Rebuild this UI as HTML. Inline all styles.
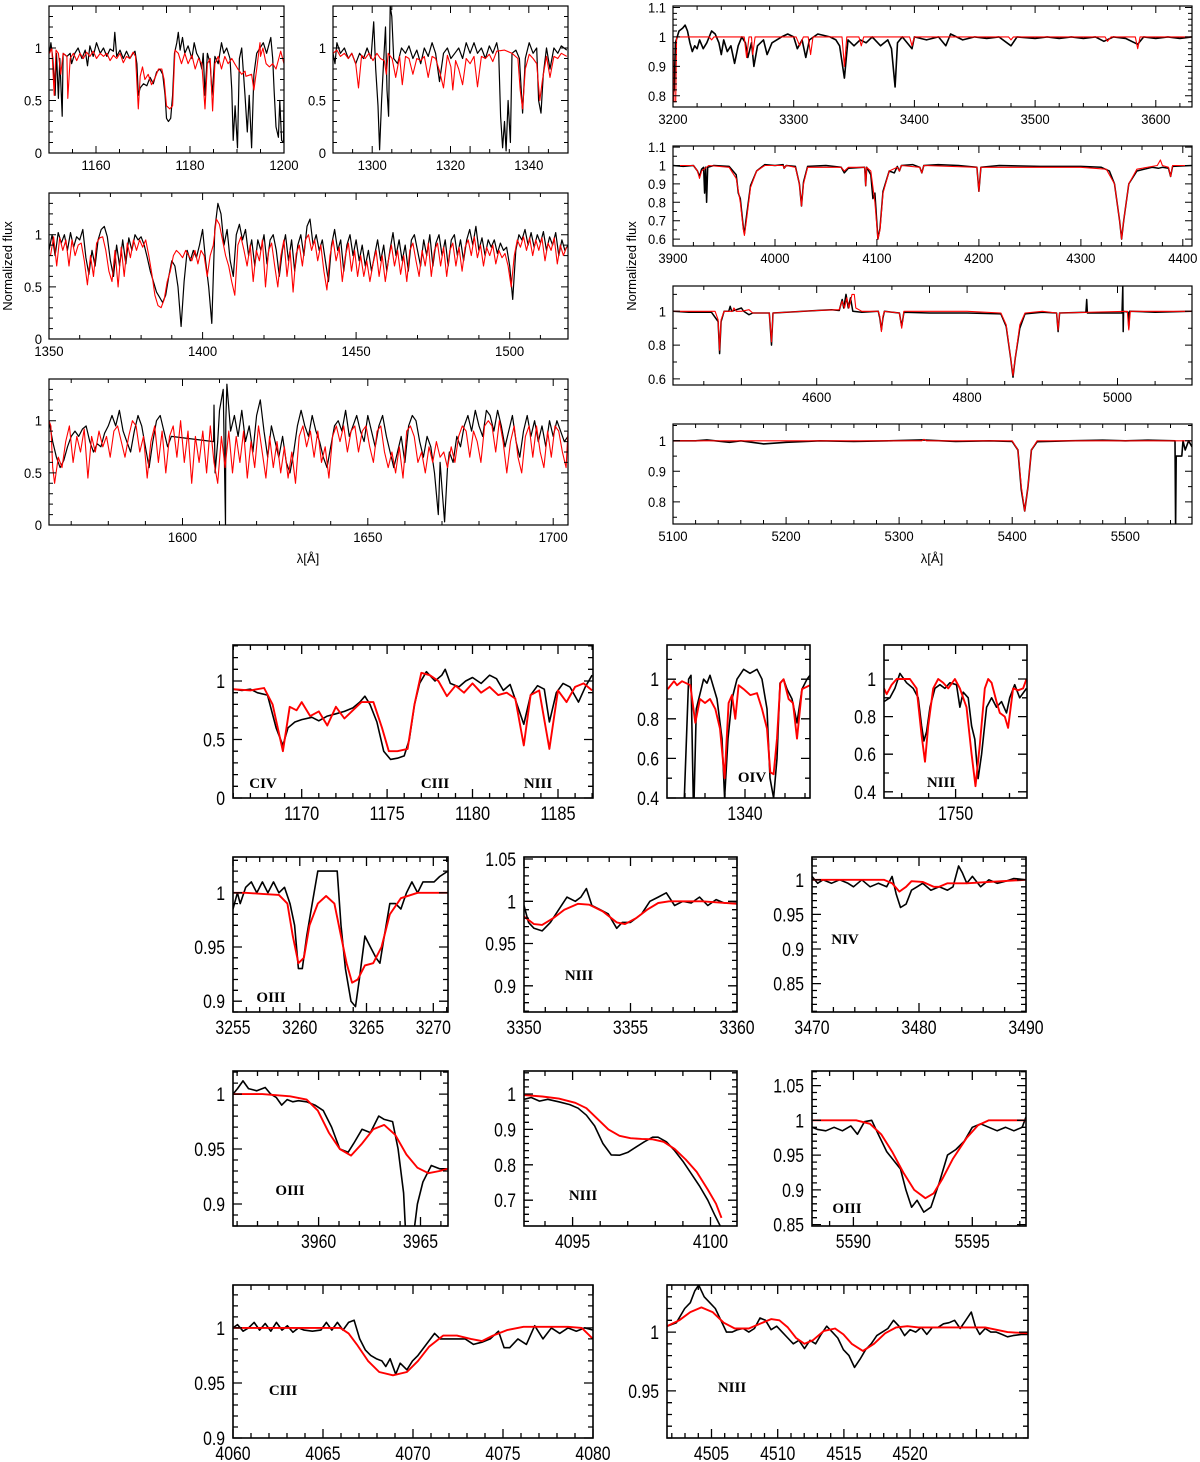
<!DOCTYPE html>
<html><head><meta charset="utf-8"><style>
html,body{margin:0;padding:0;background:#fff;}
svg{display:block;}
</style></head><body>
<svg id="fig" xmlns="http://www.w3.org/2000/svg" width="1200" height="1462" viewBox="0 0 1200 1462">
<rect x="0" y="0" width="1200" height="1462" fill="#fff"/>
<text x="0" y="0" transform="translate(12,266) rotate(-90)" text-anchor="middle" font-family="Liberation Sans, sans-serif" font-size="13">Normalized flux</text>
<text x="0" y="0" transform="translate(636,266) rotate(-90)" text-anchor="middle" font-family="Liberation Sans, sans-serif" font-size="13">Normalized flux</text>
<text x="308" y="563" text-anchor="middle" font-family="Liberation Sans, sans-serif" font-size="13">λ[Å]</text>
<text x="932" y="563" text-anchor="middle" font-family="Liberation Sans, sans-serif" font-size="13">λ[Å]</text>
</svg>
<script>
// ---------- DATA (wavelength [Å], normalized flux) ----------
const p1Obs=[[1150.1,0.95],[1150.4,1.05],[1150.8,0.9],[1151.3,0.55],[1151.6,0.95],[1152.0,0.52],[1152.3,0.9],[1152.8,0.35],[1153.0,0.95],[1153.8,0.92],[1154.5,0.95],[1154.8,0.85],[1155.5,0.95],[1156.2,1.0],[1157.0,0.9],[1157.7,0.98],[1158.2,0.83],[1158.7,1.02],[1159.4,0.92],[1160.1,1.05],[1160.9,0.95],[1161.6,1.0],[1162.3,0.92],[1163.0,0.99],[1163.7,0.97],[1164.0,1.15],[1164.4,0.92],[1165.1,0.98],[1165.8,0.9],[1166.5,0.97],[1167.2,0.9],[1167.9,0.95],[1168.3,0.97],[1168.7,0.85],[1169.0,0.55],[1169.4,0.62],[1170.1,0.66],[1170.8,0.64],[1171.5,0.72],[1172.2,0.66],[1172.9,0.77],[1173.6,0.8],[1174.2,0.75],[1174.7,0.55],[1175.0,0.33],[1175.4,0.3],[1175.9,0.33],[1176.3,0.55],[1176.7,0.95],[1177.2,1.05],[1177.5,1.15],[1177.9,0.98],[1178.4,1.1],[1178.9,0.95],[1179.6,1.02],[1180.4,0.9],[1180.9,1.05],[1181.4,0.95],[1182.0,0.9],[1182.5,0.8],[1182.8,0.95],[1183.2,0.55],[1183.7,0.95],[1184.3,0.85],[1184.7,0.55],[1185.3,0.92],[1186.0,0.85],[1186.7,1.05],[1187.2,0.95],[1187.8,1.0],[1188.5,0.9],[1188.9,0.6],[1189.2,0.12],[1189.6,0.45],[1190.1,0.05],[1190.5,0.9],[1191.0,1.0],[1191.7,0.55],[1192.2,0.2],[1192.6,0.55],[1193.1,0.05],[1193.6,0.75],[1194.2,0.95],[1194.9,1.0],[1195.6,1.05],[1196.3,0.95],[1197.2,1.1],[1197.6,0.9],[1197.9,0.6],[1198.3,0.25],[1198.8,0.15],[1199.1,0.5],[1199.5,0.12],[1199.9,0.1],[1200,0.5]];
const p1Mod=[[1150.1,0.95],[1150.6,1.0],[1151.1,0.55],[1151.5,0.98],[1152.0,0.95],[1152.5,0.75],[1153.0,0.95],[1153.8,0.92],[1154.0,0.52],[1154.5,0.9],[1155.2,0.95],[1155.9,0.88],[1156.6,0.95],[1157.3,0.9],[1158.0,0.96],[1158.7,0.92],[1159.4,0.97],[1160.1,0.9],[1160.9,0.95],[1161.6,0.92],[1162.3,0.95],[1163.0,0.88],[1163.7,0.93],[1164.4,0.9],[1165.1,0.95],[1165.8,0.86],[1166.5,0.92],[1167.2,0.9],[1167.9,0.96],[1168.4,0.92],[1169.0,0.42],[1169.4,0.73],[1169.9,0.82],[1170.4,0.7],[1171.1,0.75],[1171.8,0.65],[1172.6,0.72],[1173.3,0.8],[1174.0,0.8],[1174.5,0.7],[1175.0,0.45],[1175.7,0.42],[1176.3,0.45],[1176.8,0.98],[1177.5,0.95],[1178.2,0.85],[1178.9,0.95],[1179.6,0.85],[1180.4,0.93],[1181.1,0.8],[1181.8,0.9],[1182.5,0.85],[1183.2,0.42],[1183.7,0.85],[1184.3,0.9],[1184.8,0.4],[1185.3,0.85],[1186.0,0.92],[1186.7,0.8],[1187.4,0.92],[1188.1,0.85],[1188.9,0.9],[1189.5,0.85],[1190.2,0.8],[1191.0,0.75],[1191.7,0.78],[1191.9,0.73],[1193.1,0.75],[1193.6,0.6],[1194.2,0.8],[1194.9,1.05],[1195.0,0.92],[1195.5,1.0],[1196.2,0.85],[1196.9,0.82],[1197.6,0.85],[1198.3,0.8],[1198.9,0.9],[1199.3,0.97],[1200,0.85]];
const p2Obs=[[1290.0,0.95],[1290.5,0.85],[1291.0,1.05],[1291.9,0.95],[1292.9,1.0],[1293.9,0.9],[1294.8,0.95],[1295.8,0.85],[1296.8,0.95],[1297.8,0.9],[1298.7,1.0],[1299.7,0.9],[1300.4,1.25],[1300.9,0.8],[1301.5,0.45],[1301.9,0.03],[1302.4,0.5],[1302.9,0.85],[1303.4,1.2],[1303.8,0.6],[1304.2,0.35],[1304.6,1.4],[1305.0,1.3],[1305.5,0.9],[1306.5,0.85],[1307.5,1.0],[1308.5,0.95],[1309.4,1.02],[1310.4,0.9],[1311.4,0.98],[1312.4,0.85],[1313.3,1.0],[1314.3,0.92],[1315.3,1.05],[1316.2,0.95],[1317.2,0.68],[1318.2,0.95],[1319.2,1.0],[1320.1,0.9],[1321.1,0.95],[1322.1,1.0],[1323.1,0.9],[1324.0,1.05],[1325.0,0.95],[1326.0,1.05],[1326.9,0.95],[1327.9,1.0],[1328.9,0.9],[1329.9,1.02],[1330.8,0.95],[1331.8,1.05],[1332.3,0.95],[1332.8,0.35],[1333.3,0.05],[1333.8,0.3],[1334.2,0.02],[1334.7,0.5],[1335.3,0.1],[1335.7,0.95],[1336.7,0.98],[1337.6,0.9],[1338.4,0.38],[1339.1,0.9],[1340.1,1.05],[1341.1,0.95],[1342.0,1.0],[1342.5,0.5],[1343.1,0.38],[1343.7,0.75],[1344.5,1.0],[1345.4,0.8],[1346.4,1.0],[1347.4,0.95],[1348.3,1.02],[1349.7,0.98]];
const p2Mod=[[1290.0,0.95],[1291.0,0.98],[1291.9,0.92],[1292.9,0.95],[1293.9,0.9],[1294.8,0.95],[1295.8,0.85],[1296.5,0.62],[1297.3,0.93],[1298.2,0.9],[1299.2,0.95],[1300.2,0.88],[1301.2,0.95],[1302.1,0.9],[1303.1,0.88],[1303.6,0.75],[1304.1,0.95],[1305.1,0.9],[1306.0,0.72],[1307.0,0.92],[1307.7,0.65],[1308.5,0.92],[1309.4,0.9],[1310.4,0.75],[1311.4,0.9],[1312.4,0.88],[1313.3,0.92],[1314.3,0.72],[1315.3,0.92],[1316.2,0.9],[1317.2,0.78],[1318.2,0.62],[1319.2,0.93],[1320.1,0.82],[1320.6,0.6],[1321.3,0.88],[1322.1,0.8],[1323.1,0.65],[1324.0,0.9],[1325.0,0.85],[1326.0,0.92],[1326.9,0.63],[1327.9,0.92],[1328.9,0.9],[1329.9,0.94],[1330.8,0.87],[1331.8,0.97],[1333.8,0.98],[1335.7,0.95],[1337.2,0.9],[1337.8,0.6],[1338.4,0.42],[1339.1,0.8],[1340.1,0.94],[1341.1,0.9],[1342.0,0.85],[1342.8,0.5],[1343.5,0.7],[1344.5,0.92],[1345.4,0.72],[1346.4,0.92],[1347.4,0.9],[1348.3,0.95],[1349.7,0.92]];
const p3Obs=[[1350,0.85],[1351,1.0],[1352,0.8],[1353,1.02],[1354,0.92],[1355,1.0],[1356,0.85],[1357,1.02],[1358,0.88],[1359,0.98],[1360,0.95],[1361,1.05],[1362,0.78],[1363,0.62],[1364,0.85],[1365,0.7],[1366,0.95],[1367,1.05],[1368,1.08],[1369,0.98],[1370,0.75],[1371,0.6],[1372,0.9],[1373,0.7],[1374,0.95],[1375,0.72],[1376,0.97],[1377,0.85],[1378,1.0],[1379,0.95],[1380,0.98],[1381,0.9],[1382,0.78],[1383,0.65],[1384,0.55],[1385,0.45],[1386,0.4],[1387,0.35],[1388,0.42],[1389,0.6],[1390,0.75],[1391,0.7],[1392,0.5],[1393,0.12],[1394,0.55],[1395,0.85],[1396,0.75],[1397,0.85],[1398,0.78],[1399,0.9],[1400,1.05],[1401,0.75],[1402,0.5],[1403,0.15],[1404,1.05],[1405,1.3],[1406,1.2],[1407,0.9],[1408,1.05],[1409,0.75],[1410,0.6],[1411,1.0],[1412,1.1],[1413,0.95],[1414,1.05],[1415,0.8],[1416,0.95],[1417,0.7],[1418,0.95],[1419,0.85],[1420,1.0],[1421,0.72],[1422,0.95],[1423,1.0],[1424,0.85],[1425,0.6],[1426,0.85],[1427,1.0],[1428,0.75],[1429,0.95],[1430,0.65],[1431,0.9],[1432,1.0],[1433,0.8],[1434,1.08],[1435,1.15],[1436,0.9],[1437,1.0],[1438,0.85],[1439,0.95],[1440,0.75],[1441,0.55],[1442,0.9],[1443,1.05],[1444,0.85],[1445,0.95],[1446,0.65],[1447,0.9],[1448,1.0],[1449,0.8],[1450,0.95],[1451,0.75],[1452,0.9],[1453,0.7],[1454,0.85],[1455,0.65],[1456,0.8],[1457,0.95],[1458,0.75],[1459,0.9],[1460,0.65],[1461,0.85],[1462,1.02],[1463,0.8],[1464,0.95],[1465,0.75],[1466,0.9],[1467,0.65],[1468,0.95],[1469,1.0],[1470,0.85],[1471,0.7],[1472,0.95],[1473,0.8],[1474,1.0],[1475,0.7],[1476,0.92],[1477,1.0],[1478,0.8],[1479,0.95],[1480,0.7],[1481,0.95],[1482,1.0],[1483,0.8],[1484,0.95],[1485,0.75],[1486,0.95],[1487,1.05],[1488,0.9],[1489,1.08],[1490,0.85],[1491,0.97],[1492,0.8],[1493,0.95],[1494,0.88],[1495,0.95],[1496,0.82],[1497,0.92],[1498,0.85],[1499,0.88],[1500,0.7],[1501,0.38],[1502,0.85],[1503,1.0],[1504,0.95],[1505,1.05],[1506,0.9],[1507,1.02],[1508,0.88],[1509,1.0],[1510,0.92],[1511,1.03],[1512,0.85],[1513,0.98],[1514,0.9],[1515,1.02],[1516,0.8],[1517,0.95],[1518,0.85],[1519,0.9]];
const p3Mod=[[1350.5,0.8],[1351.5,0.98],[1352.5,0.7],[1353.5,0.97],[1354.5,0.85],[1355.5,0.95],[1356.5,0.7],[1357.5,0.95],[1358.5,0.8],[1359.5,0.9],[1360.5,0.92],[1361.5,0.75],[1362.5,0.52],[1363.5,0.8],[1364.5,0.6],[1365.5,0.92],[1366.5,0.97],[1367.5,0.98],[1368.5,0.85],[1369.5,0.65],[1370.5,0.55],[1371.5,0.85],[1372.5,0.5],[1373.5,0.88],[1374.5,0.6],[1375.5,0.92],[1376.5,0.78],[1377.5,0.95],[1378.5,0.85],[1379.5,0.95],[1380.5,0.88],[1381.5,0.95],[1382.5,0.8],[1383.5,0.62],[1384.5,0.42],[1385.5,0.32],[1386.5,0.3],[1387.5,0.38],[1388.5,0.55],[1389.5,0.65],[1390.5,0.8],[1391.5,0.85],[1392.5,0.82],[1393.5,0.78],[1394.5,0.85],[1395.5,0.8],[1396.5,0.75],[1397.5,0.85],[1398.5,0.72],[1399.5,0.85],[1400.5,0.8],[1401.5,0.6],[1402.5,0.8],[1403.5,0.9],[1404.5,1.15],[1405.5,1.1],[1406.5,0.95],[1407.5,0.8],[1408.5,0.7],[1409.5,0.55],[1410.5,0.42],[1411.5,0.9],[1412.5,0.98],[1413.5,0.85],[1414.5,0.7],[1415.5,0.9],[1416.5,0.55],[1417.5,0.85],[1418.5,0.75],[1419.5,0.95],[1420.5,0.5],[1421.5,0.85],[1422.5,0.92],[1423.5,0.7],[1424.5,0.5],[1425.5,0.8],[1426.5,0.95],[1427.5,0.6],[1428.5,0.85],[1429.5,0.45],[1430.5,0.82],[1431.5,0.9],[1432.5,0.7],[1433.5,0.95],[1434.5,1.0],[1435.5,0.85],[1436.5,0.95],[1437.5,0.75],[1438.5,0.9],[1439.5,0.65],[1440.5,0.47],[1441.5,0.8],[1442.5,0.95],[1443.5,0.75],[1444.5,0.88],[1445.5,0.55],[1446.5,0.8],[1447.5,0.92],[1448.5,0.65],[1449.5,0.85],[1450.5,0.6],[1451.5,0.8],[1452.5,0.6],[1453.5,0.75],[1454.5,0.55],[1455.5,0.72],[1456.5,0.85],[1457.5,0.6],[1458.5,0.8],[1459.5,0.55],[1460.5,0.75],[1461.5,0.9],[1462.5,0.7],[1463.5,0.85],[1464.5,0.62],[1465.5,0.8],[1466.5,0.55],[1467.5,0.85],[1468.5,0.92],[1469.5,0.75],[1470.5,0.6],[1471.5,0.85],[1472.5,0.7],[1473.5,0.92],[1474.5,0.6],[1475.5,0.85],[1476.5,0.92],[1477.5,0.7],[1478.5,0.88],[1479.5,0.6],[1480.5,0.85],[1481.5,0.92],[1482.5,0.7],[1483.5,0.88],[1484.5,0.65],[1485.5,0.88],[1486.5,0.95],[1487.5,0.8],[1488.5,0.98],[1489.5,0.78],[1490.5,0.9],[1491.5,0.7],[1492.5,0.88],[1493.5,0.8],[1494.5,0.9],[1495.5,0.72],[1496.5,0.85],[1497.5,0.78],[1498.5,0.82],[1499.5,0.7],[1500.5,0.5],[1501.5,0.8],[1502.5,0.95],[1503.5,0.88],[1504.5,0.98],[1505.5,0.85],[1506.5,0.97],[1507.5,0.8],[1508.5,0.95],[1509.5,0.85],[1510.5,0.97],[1511.5,0.75],[1512.5,0.92],[1513.5,0.85],[1514.5,0.97],[1515.5,0.72],[1516.5,0.9],[1517.5,0.8],[1518.5,0.88]];
const p4Obs=[[1564,1.0],[1565,0.8],[1566,0.65],[1567,0.55],[1568,0.62],[1569,0.75],[1570,0.85],[1571,0.9],[1572,0.85],[1573,0.92],[1574,0.95],[1575,0.8],[1576,0.7],[1577,0.78],[1578,0.75],[1579,0.88],[1580,0.95],[1581,1.05],[1582,0.95],[1583,1.1],[1584,0.9],[1585,0.8],[1586,0.7],[1587,0.9],[1588,1.05],[1589,0.95],[1590,0.75],[1591,0.55],[1592,0.8],[1593,1.0],[1594,1.05],[1595,0.9],[1596,0.75],[1597,0.85],[1608.4,0.8],[1608.5,1.15],[1608.8,0.5],[1609.5,0.8],[1610,1.1],[1611,1.3],[1611.6,0.0],[1611.7,1.0],[1612,1.35],[1613,0.9],[1614,1.05],[1615,0.85],[1616,1.1],[1617,0.8],[1618,0.95],[1619,0.7],[1620,1.05],[1621,1.2],[1622,0.9],[1623,0.65],[1624,0.95],[1625,0.8],[1626,0.65],[1627,0.85],[1628,0.6],[1629,0.5],[1630,0.7],[1631,0.95],[1632,1.1],[1633,0.95],[1634,0.85],[1635,1.05],[1636,0.9],[1637,0.8],[1638,0.65],[1639,0.55],[1640,0.75],[1641,0.95],[1642,1.0],[1643,0.9],[1644,1.1],[1645,0.85],[1646,0.95],[1647,1.05],[1648,0.9],[1649,0.8],[1650,1.05],[1651,0.9],[1652,0.75],[1653,0.95],[1654,1.05],[1655,0.85],[1656,0.7],[1657,0.55],[1658,0.7],[1659,0.85],[1660,0.6],[1661,0.95],[1662,1.05],[1663,1.0],[1664,0.8],[1665,0.65],[1666,0.85],[1667,0.75],[1668,0.5],[1669,0.1],[1669.5,0.6],[1670,0.35],[1670.7,0.03],[1671.5,0.55],[1672,0.7],[1673,0.6],[1674,0.85],[1675,0.75],[1676,0.95],[1677,1.05],[1678,0.9],[1679,1.1],[1680,0.95],[1681,0.85],[1682,1.1],[1683,1.05],[1684,0.9],[1685,1.1],[1686,0.95],[1687,0.75],[1688,0.9],[1689,1.05],[1690,0.8],[1691,0.65],[1692,0.9],[1693,1.05],[1694,0.85],[1695,1.0],[1696,0.8],[1697,0.95],[1698,0.75],[1699,1.0],[1700,0.85],[1701,1.0],[1702,0.9],[1703,0.8],[1704,0.85]];
const p4Mod=[[1564,1.0],[1564.5,0.95],[1565,0.55],[1565.5,0.4],[1566.5,0.65],[1567.5,0.55],[1568.5,0.8],[1569.5,0.95],[1570.5,0.6],[1571.5,0.85],[1572.5,0.7],[1573.5,0.92],[1574.5,0.45],[1575.5,0.85],[1576.5,0.7],[1577.5,0.9],[1578.5,0.75],[1579.5,0.85],[1580.5,0.65],[1581.5,0.9],[1582.5,0.95],[1583.5,0.8],[1584.5,0.65],[1585.5,0.85],[1586.5,1.0],[1587.5,0.95],[1588.5,0.7],[1589.5,0.85],[1590.5,0.45],[1591.5,0.8],[1592.5,0.95],[1593.5,0.6],[1594.5,0.9],[1595.5,0.5],[1596.5,0.85],[1597.5,0.95],[1598.5,0.65],[1599.5,1.0],[1600.5,0.6],[1601.5,0.9],[1602.5,0.4],[1603.5,0.85],[1604.5,0.6],[1605.5,0.9],[1606.5,0.5],[1607.5,0.95],[1608.5,0.6],[1609.5,0.4],[1610.5,0.85],[1611.5,0.55],[1612.5,0.9],[1613.5,0.5],[1614.5,0.85],[1615.5,0.6],[1616.5,0.9],[1617.5,0.45],[1618.5,0.8],[1619.5,0.55],[1620.5,0.95],[1621.5,0.7],[1622.5,0.45],[1623.5,0.85],[1624.5,0.55],[1625.5,0.8],[1626.5,0.5],[1627.5,0.75],[1628.5,0.45],[1629.5,0.7],[1630.5,0.4],[1631.5,0.85],[1632.5,0.95],[1633.5,0.75],[1634.5,0.9],[1635.5,0.65],[1636.5,0.9],[1637.5,0.6],[1638.5,0.75],[1639.5,0.45],[1640.5,0.85],[1641.5,0.95],[1642.5,0.8],[1643.5,0.95],[1644.5,0.7],[1645.5,0.9],[1646.5,0.95],[1647.5,0.7],[1648.5,0.9],[1649.5,0.95],[1650.5,0.75],[1651.5,0.6],[1652.5,0.9],[1653.5,0.95],[1654.5,0.7],[1655.5,0.55],[1656.5,0.7],[1657.5,0.5],[1658.5,0.75],[1659.5,0.45],[1660.5,0.9],[1661.5,0.95],[1662.5,0.85],[1663.5,0.6],[1664.5,0.7],[1665.5,0.5],[1666.5,0.75],[1667.5,0.6],[1668.5,0.8],[1669.5,0.65],[1670.5,0.7],[1671.5,0.55],[1672.5,0.75],[1673.5,0.6],[1674.5,0.85],[1675.5,0.95],[1676.5,0.9],[1677.5,0.65],[1678.5,0.9],[1679.5,0.8],[1680.5,0.6],[1681.5,0.95],[1682.5,1.0],[1683.5,0.95],[1684.5,0.7],[1685.5,1.0],[1686.5,0.8],[1687.5,0.5],[1688.5,0.8],[1689.5,0.95],[1690.5,0.65],[1691.5,0.5],[1692.5,0.85],[1693.5,0.95],[1694.5,0.65],[1695.5,0.95],[1696.5,0.7],[1697.5,0.55],[1698.5,0.9],[1699.5,0.65],[1700.5,0.95],[1701.5,0.9],[1702.5,0.7],[1703.5,0.55],[1704,0.9]];
const r1Obs=[[3200,0.8],[3201,0.82],[3202,0.98],[3205,1.02],[3208,1.03],[3210,1.04],[3212,1.02],[3214,0.98],[3216,0.95],[3218,0.97],[3220,0.96],[3222,0.99],[3225,0.96],[3228,0.98],[3232,1.02],[3235,1.01],[3238,0.98],[3240,0.94],[3242,0.99],[3245,0.95],[3248,0.97],[3251,0.91],[3254,0.97],[3257,1.0],[3260,0.98],[3262,0.93],[3265,0.98],[3267,0.9],[3270,0.97],[3275,0.99],[3278,0.94],[3282,0.98],[3290,1.0],[3295,1.01],[3300,1.0],[3303,0.96],[3307,0.99],[3310,0.93],[3313,0.99],[3320,1.01],[3330,1.0],[3335,0.99],[3338,0.97],[3342,0.86],[3345,0.99],[3350,0.97],[3355,0.99],[3360,0.98],[3365,1.0],[3372,0.97],[3378,0.99],[3381,0.96],[3384,0.83],[3386,0.98],[3390,1.0],[3398,0.96],[3400,1.0],[3410,0.99],[3420,1.0],[3426,0.97],[3430,1.01],[3440,0.99],[3450,1.0],[3460,0.995],[3470,1.0],[3480,0.97],[3485,1.0],[3500,0.995],[3510,1.0],[3520,0.995],[3530,1.0],[3540,0.995],[3550,1.0],[3557,0.985],[3565,1.0],[3575,0.995],[3585,0.975],[3590,1.0],[3600,0.995],[3610,1.0],[3620,0.995],[3630,1.0]];
const r1Mod=[[3200,1.0],[3200.8,0.78],[3202.2,0.78],[3203,1.0],[3230,1.0],[3232,0.99],[3234,1.0],[3259,1.0],[3261,0.93],[3263,1.0],[3265,1.0],[3266,0.94],[3268,1.0],[3302,1.0],[3305,0.97],[3308,1.0],[3312,1.0],[3314,0.94],[3316,1.0],[3340,1.0],[3342,0.9],[3344,1.0],[3354,1.0],[3356,0.97],[3358,1.0],[3396,1.0],[3398,0.97],[3400,1.0],[3478,1.0],[3480,0.99],[3482,1.0],[3558,1.0],[3560,0.985],[3563,1.0],[3583,1.0],[3585,0.96],[3587,1.0],[3630,1.0]];
const r2Obs=[[3900,1.0],[3910,0.995],[3920,1.0],[3924,0.97],[3926,0.94],[3928,0.98],[3930,0.99],[3931,0.85],[3932,0.99],[3933,0.8],[3934,0.99],[3940,1.0],[3955,0.995],[3962,0.95],[3964,0.85],[3966,0.82],[3969,0.66],[3970,0.63],[3972,0.72],[3976,0.89],[3982,0.97],[3990,1.005],[4000,1.0],[4008,1.005],[4009,0.985],[4011,1.0],[4020,0.995],[4024,0.9],[4026,0.78],[4028,0.91],[4032,0.995],[4050,1.0],[4065,0.99],[4068,0.96],[4072,0.985],[4088,0.99],[4089,0.89],[4090,0.99],[4094,0.95],[4096,0.82],[4098,0.85],[4101,0.6],[4103,0.66],[4106,0.86],[4112,0.97],[4117,0.96],[4120,0.995],[4122,0.97],[4124,1.0],[4135,1.005],[4142,0.99],[4144,0.96],[4146,1.0],[4160,1.005],[4180,1.0],[4198,0.99],[4200,0.86],[4202,0.99],[4220,1.0],[4260,0.995],[4300,0.995],[4320,0.99],[4328,0.97],[4333,0.9],[4338,0.7],[4340,0.6],[4342,0.7],[4347,0.9],[4355,0.97],[4370,0.99],[4376,0.985],[4380,0.99],[4386,0.985],[4388,0.94],[4390,0.995],[4409,1.0]];
const r2Mod=[[3900,1.0],[3920,1.0],[3924,0.97],[3926,0.93],[3928,0.97],[3935,1.0],[3955,0.99],[3962,0.93],[3966,0.8],[3969,0.65],[3970,0.62],[3972,0.7],[3976,0.88],[3982,0.97],[3990,1.0],[4008,1.0],[4009,0.985],[4011,1.0],[4020,0.99],[4024,0.9],[4026,0.78],[4028,0.9],[4032,0.99],[4065,0.99],[4068,0.97],[4072,0.99],[4088,0.99],[4089,0.89],[4090,0.99],[4094,0.97],[4098,0.8],[4101,0.6],[4103,0.65],[4106,0.85],[4112,0.97],[4120,0.99],[4122,0.97],[4124,1.0],[4142,0.99],[4144,0.96],[4146,1.0],[4198,0.99],[4200,0.86],[4202,0.99],[4300,0.99],[4325,0.98],[4333,0.9],[4338,0.7],[4340,0.6],[4342,0.7],[4347,0.9],[4355,0.98],[4375,1.0],[4378,1.03],[4380,1.0],[4386,0.99],[4388,0.94],[4390,1.0],[4409,1.0]];
const r3Obs=[[4409,1.0],[4430,0.995],[4460,0.995],[4469,0.94],[4471,0.75],[4473,0.94],[4477,1.0],[4483,1.0],[4485,1.03],[4487,1.0],[4500,1.02],[4503,1.0],[4510,0.98],[4515,0.99],[4537,0.99],[4540,0.8],[4542,0.99],[4560,0.995],[4600,1.005],[4620,1.01],[4630,1.005],[4634,1.07],[4636,1.02],[4639,1.1],[4642,1.02],[4645,1.08],[4648,1.0],[4660,0.995],[4682,1.0],[4684,0.96],[4686,0.89],[4688,0.96],[4690,1.0],[4710,0.99],[4713,0.91],[4716,0.995],[4750,0.99],[4800,0.99],[4845,0.985],[4852,0.91],[4858,0.72],[4861,0.61],[4864,0.72],[4870,0.9],[4877,0.985],[4900,0.995],[4919,0.99],[4921,0.88],[4923,0.99],[4958,0.995],[4959,1.07],[4960,0.99],[5006,0.99],[5007,1.15],[5007.5,0.88],[5008,1.0],[5014,0.995],[5015,0.9],[5016,1.0],[5050,0.995],[5099,1.0]];
const r3Mod=[[4409,1.0],[4465,1.0],[4469,0.95],[4471,0.77],[4473,0.95],[4477,1.0],[4488,1.0],[4490,1.02],[4493,1.0],[4500,1.0],[4510,1.01],[4515,0.99],[4537,0.99],[4540,0.82],[4542,0.99],[4600,1.005],[4630,1.01],[4634,1.06],[4637,1.02],[4640,1.08],[4643,1.02],[4647,1.1],[4650,1.1],[4652,1.02],[4660,1.0],[4682,1.0],[4684,0.97],[4686,0.88],[4688,0.97],[4690,1.0],[4710,0.99],[4713,0.9],[4716,1.0],[4800,1.0],[4845,0.99],[4852,0.92],[4858,0.72],[4861,0.62],[4864,0.72],[4870,0.92],[4877,0.99],[4900,1.0],[4919,0.99],[4921,0.89],[4923,0.99],[5013,1.0],[5015,0.89],[5017,1.0],[5099,1.0]];
const r4Obs=[[5100,1.0],[5120,1.0],[5130,1.003],[5150,0.995],[5160,1.0],[5180,0.99],[5200,0.995],[5230,1.0],[5260,0.998],[5290,1.0],[5320,1.003],[5350,0.998],[5380,1.0],[5400,0.998],[5405,0.97],[5408,0.84],[5411,0.77],[5414,0.85],[5417,0.97],[5422,0.997],[5450,1.0],[5480,1.002],[5500,1.0],[5520,1.002],[5544,1.0],[5544.5,0.72],[5545,0.95],[5550,0.95],[5551,1.0],[5553,0.97],[5556,1.0],[5559,0.98]];
const r4Mod=[[5100,1.0],[5320,1.0],[5322,1.005],[5324,1.0],[5400,1.0],[5405,0.97],[5408,0.85],[5411,0.77],[5414,0.85],[5417,0.97],[5422,1.0],[5559,1.0]];
const b1Obs=[[1166,0.93],[1166.5,0.92],[1167,0.93],[1167.4,0.9],[1168,0.88],[1168.5,0.6],[1168.9,0.45],[1169.2,0.6],[1169.6,0.65],[1170,0.67],[1170.6,0.69],[1171,0.66],[1171.5,0.7],[1172,0.72],[1172.5,0.74],[1173,0.77],[1173.4,0.82],[1173.7,0.87],[1174,0.8],[1174.4,0.65],[1174.8,0.4],[1175.2,0.33],[1175.6,0.34],[1176,0.36],[1176.3,0.5],[1176.6,0.8],[1176.9,0.98],[1177.3,1.08],[1177.8,1.0],[1178.2,1.05],[1178.4,1.1],[1178.7,0.98],[1179.2,0.95],[1179.6,1.0],[1180,1.03],[1180.5,0.98],[1181,1.05],[1181.4,1.02],[1181.8,0.92],[1182.2,0.97],[1182.6,0.8],[1183,0.63],[1183.4,0.88],[1183.8,0.96],[1184.2,0.93],[1184.5,0.65],[1184.9,0.9],[1185.3,0.98],[1185.7,0.95],[1186.2,0.82],[1186.6,0.95],[1187,1.05]];
const b1Mod=[[1166,0.93],[1167,0.92],[1167.8,0.94],[1168.3,0.8],[1168.9,0.4],[1169.3,0.78],[1169.7,0.75],[1170,0.82],[1170.5,0.7],[1171,0.74],[1171.5,0.62],[1172,0.78],[1172.5,0.68],[1173,0.75],[1173.5,0.82],[1174.2,0.82],[1174.7,0.6],[1175.1,0.4],[1175.6,0.4],[1176.2,0.42],[1176.6,0.8],[1177,1.07],[1177.5,1.05],[1178,1.0],[1178.5,0.87],[1179,0.96],[1179.5,0.9],[1180,0.98],[1180.5,0.9],[1181,0.95],[1181.5,0.88],[1182,0.9],[1182.5,0.85],[1183,0.45],[1183.4,0.88],[1183.9,0.92],[1184.5,0.42],[1185,0.92],[1185.5,0.82],[1186,0.95],[1186.5,0.98],[1187,0.92]];
const b2Obs=[[1333.86,0.3],[1334.36,1.0],[1334.6,1.02],[1334.86,0.3],[1335.13,0.85],[1335.86,1.0],[1336.2,0.98],[1336.5,1.02],[1337.2,0.9],[1337.7,0.7],[1337.96,0.4],[1338.3,0.7],[1338.7,0.9],[1339.2,1.0],[1339.86,1.05],[1340.5,1.03],[1341.2,1.05],[1341.7,1.0],[1342.2,0.85],[1342.5,0.5],[1342.86,0.4],[1343.2,0.6],[1343.5,0.98],[1343.86,1.0],[1344.2,0.95],[1344.7,0.9],[1345.2,0.78],[1345.7,0.95],[1346.2,1.0],[1346.5,1.02]];
const b2Mod=[[1332.27,0.95],[1332.9,0.99],[1333.2,0.97],[1333.7,0.99],[1334.53,0.97],[1335.03,0.78],[1335.5,0.9],[1336.0,0.88],[1336.5,0.9],[1337.03,0.85],[1337.5,0.75],[1337.96,0.5],[1338.36,0.88],[1338.7,0.92],[1339.03,0.8],[1339.36,0.97],[1339.86,0.95],[1340.53,0.92],[1341.2,0.93],[1341.7,0.85],[1342.2,0.75],[1342.53,0.53],[1342.86,0.52],[1343.2,0.7],[1343.53,0.98],[1343.86,1.0],[1344.36,0.9],[1344.8,0.88],[1345.2,0.7],[1345.7,0.95],[1346.5,0.97]];
const b3Obs=[[1744.69,0.88],[1745.13,0.9],[1745.5,0.95],[1745.87,1.03],[1746.37,0.98],[1746.86,0.95],[1747.23,0.9],[1747.48,0.75],[1747.65,0.67],[1747.85,0.72],[1748.1,0.85],[1748.47,0.95],[1748.84,0.97],[1749.21,0.95],[1749.58,0.98],[1750.07,0.97],[1750.32,0.85],[1750.57,0.93],[1750.94,0.9],[1751.19,0.75],[1751.43,0.68],[1751.67,0.47],[1751.93,0.6],[1752.3,0.85],[1752.67,0.9],[1753.04,0.85],[1753.41,0.88],[1753.78,0.82],[1754.02,0.9],[1754.39,0.97],[1754.76,0.9],[1755.26,0.95]];
const b3Mod=[[1744.69,0.95],[1744.89,0.92],[1745.26,0.97],[1745.63,1.0],[1746.61,1.0],[1747.11,0.95],[1747.48,0.7],[1747.73,0.56],[1747.97,0.75],[1748.34,0.95],[1748.71,1.0],[1749.08,0.98],[1749.45,0.95],[1749.95,1.0],[1750.32,0.95],[1750.81,0.85],[1751.19,0.6],[1751.48,0.43],[1751.8,0.65],[1752.17,0.95],[1752.42,1.0],[1752.67,0.98],[1753.04,0.88],[1753.28,0.82],[1753.65,0.8],[1753.9,0.74],[1754.27,0.95],[1754.64,0.94],[1755.01,0.95],[1755.26,1.0]];
const c1Obs=[[3255,0.985],[3255.33,1.0],[3255.54,0.99],[3255.95,1.005],[3256.37,1.01],[3256.78,1.0],[3257.2,1.01],[3257.61,1.0],[3258.03,1.01],[3258.44,1.0],[3258.86,1.005],[3259.27,0.99],[3259.61,0.97],[3259.9,0.93],[3260.19,0.93],[3260.52,0.96],[3260.93,0.99],[3261.35,1.02],[3261.68,1.02],[3261.97,1.02],[3262.39,1.02],[3262.8,1.02],[3263.09,0.97],[3263.42,0.93],[3263.84,0.9],[3264.17,0.895],[3264.46,0.92],[3264.88,0.96],[3265.29,0.95],[3265.71,0.94],[3266.0,0.935],[3266.33,0.96],[3266.74,0.99],[3267.16,0.99],[3267.57,0.985],[3267.99,1.0],[3268.4,1.01],[3268.82,1.0],[3269.23,1.01],[3269.65,1.01],[3270.06,1.01],[3270.48,1.015],[3271.1,1.02]];
const c1Mod=[[3255,1.0],[3255.95,1.0],[3257.2,0.999],[3258.44,0.998],[3259.07,0.99],[3259.48,0.96],[3259.9,0.935],[3260.31,0.94],[3260.73,0.97],[3261.35,0.99],[3261.97,0.997],[3262.59,0.99],[3263.09,0.96],[3263.51,0.935],[3263.92,0.917],[3264.34,0.92],[3264.88,0.933],[3265.5,0.935],[3266.12,0.95],[3266.74,0.98],[3267.57,0.995],[3268.82,1.0],[3271.1,1.0]];
const c2Obs=[[3350,0.995],[3350.21,0.975],[3350.47,0.968],[3350.85,0.965],[3351.24,0.975],[3351.63,0.99],[3352.02,1.005],[3352.41,1.0],[3352.67,1.005],[3352.93,1.015],[3353.19,0.995],[3353.58,0.99],[3353.96,0.985],[3354.35,0.968],[3354.61,0.975],[3355.0,0.975],[3355.52,0.985],[3355.91,1.0],[3356.3,1.005],[3356.68,1.01],[3357.07,0.995],[3357.46,1.0],[3357.85,0.998],[3358.24,1.005],[3358.63,0.995],[3359.02,1.002],[3359.4,0.998],[3360,0.998]];
const c2Mod=[[3350,0.982],[3350.47,0.973],[3350.85,0.972],[3351.37,0.98],[3351.89,0.99],[3352.54,0.997],[3353.06,0.996],[3353.7,0.988],[3354.35,0.975],[3354.74,0.973],[3355.26,0.98],[3355.78,0.99],[3356.3,0.998],[3356.81,1.0],[3358.37,1.0],[3360,0.997]];
const c3Obs=[[3470,1.005],[3470.52,0.995],[3471.03,1.0],[3471.81,0.995],[3472.58,1.0],[3473.36,0.995],[3473.88,0.99],[3474.65,1.0],[3475.43,0.99],[3476.2,0.995],[3476.98,0.99],[3477.49,1.005],[3477.86,0.98],[3478.27,0.96],[3478.79,0.965],[3479.3,0.985],[3479.82,0.99],[3480.34,0.995],[3481.11,0.985],[3481.89,0.99],[3482.66,0.985],[3483.18,0.99],[3483.7,1.02],[3484.06,1.01],[3484.47,0.995],[3484.99,1.005],[3485.76,0.99],[3486.54,1.0],[3487.31,0.995],[3488.09,0.998],[3488.86,1.002],[3490,1.0]];
const c3Mod=[[3470,1.0],[3476.72,1.0],[3477.49,0.995],[3478.17,0.983],[3478.79,0.99],[3479.3,0.998],[3480.34,0.997],[3481.37,0.99],[3481.89,0.99],[3482.66,0.995],[3484.47,0.995],[3486.54,0.997],[3490,1.0]];
const d1Obs=[[3955.8,1.0],[3956.02,1.005],[3956.29,1.012],[3956.56,1.005],[3956.97,1.003],[3957.38,1.006],[3957.65,1.0],[3957.92,0.997],[3958.19,0.99],[3958.46,0.995],[3958.73,0.993],[3959.01,0.994],[3959.41,0.993],[3959.82,0.99],[3960.23,0.985],[3960.64,0.97],[3961.04,0.95],[3961.45,0.947],[3961.72,0.955],[3962.13,0.968],[3962.54,0.965],[3962.95,0.98],[3963.22,0.977],[3963.63,0.975],[3963.9,0.95],[3964.17,0.91],[3964.31,0.86],[3964.58,0.86],[3964.85,0.9],[3965.12,0.92],[3965.53,0.935],[3965.94,0.932],[3966.34,0.932]];
const d1Mod=[[3955.8,1.0],[3957.24,1.0],[3958.6,0.998],[3959.41,0.995],[3959.96,0.985],[3960.5,0.965],[3961.04,0.95],[3961.59,0.944],[3962.13,0.955],[3962.68,0.968],[3963.22,0.972],[3963.76,0.963],[3964.31,0.945],[3964.85,0.933],[3965.39,0.928],[3965.94,0.93],[3966.34,0.932]];
const d2Obs=[[4093.24,0.985],[4093.5,0.99],[4093.8,0.98],[4094.1,0.985],[4094.5,0.978],[4094.9,0.97],[4095.2,0.96],[4095.5,0.94],[4095.8,0.91],[4096.1,0.86],[4096.4,0.828],[4096.7,0.827],[4097.0,0.835],[4097.3,0.85],[4097.6,0.865],[4097.9,0.878],[4098.1,0.878],[4098.4,0.865],[4098.7,0.84],[4099.0,0.81],[4099.3,0.775],[4099.6,0.74],[4099.9,0.7],[4100.14,0.66],[4100.4,0.62]];
const d2Mod=[[4093.24,0.997],[4093.9,0.993],[4094.5,0.987],[4095.1,0.975],[4095.5,0.96],[4095.9,0.93],[4096.3,0.9],[4096.7,0.882],[4097.1,0.875],[4097.5,0.873],[4097.9,0.872],[4098.3,0.865],[4098.7,0.845],[4099.1,0.815],[4099.5,0.78],[4099.9,0.73],[4100.2,0.69],[4100.4,0.65]];
const d3Obs=[[5588.26,0.99],[5588.49,0.987],[5588.84,0.985],[5589.19,0.99],[5589.54,0.985],[5589.89,0.992],[5590.17,0.98],[5590.47,0.998],[5590.77,1.0],[5591.05,0.98],[5591.4,0.955],[5591.75,0.94],[5591.98,0.93],[5592.21,0.9],[5592.45,0.875],[5592.68,0.885],[5592.96,0.868],[5593.26,0.875],[5593.61,0.91],[5593.96,0.95],[5594.31,0.958],[5594.66,0.97],[5595.0,0.99],[5595.35,0.995],[5595.7,0.99],[5596.05,0.985],[5596.4,0.99],[5596.75,0.985],[5597.1,0.99],[5597.26,1.005]];
const d3Mod=[[5588.26,1.0],[5590.12,1.0],[5590.7,0.995],[5591.17,0.98],[5591.63,0.955],[5592.1,0.925],[5592.56,0.9],[5593.03,0.888],[5593.38,0.895],[5593.73,0.915],[5594.19,0.945],[5594.77,0.975],[5595.24,0.993],[5595.7,1.0],[5597.26,1.0]];
const e1Obs=[[4060,1.0],[4060.25,1.003],[4060.56,0.997],[4060.86,1.0],[4061.17,1.005],[4061.48,0.998],[4061.79,1.004],[4062.1,0.997],[4062.41,1.005],[4062.72,0.998],[4063.02,1.002],[4063.33,0.996],[4063.64,1.0],[4063.95,0.998],[4064.41,0.997],[4064.88,0.998],[4065.19,1.005],[4065.49,0.998],[4065.8,1.005],[4066.11,0.998],[4066.42,1.005],[4066.73,1.007],[4067.04,0.99],[4067.35,0.98],[4067.65,0.975],[4067.96,0.972],[4068.27,0.97],[4068.49,0.965],[4068.73,0.972],[4069.04,0.958],[4069.29,0.968],[4069.66,0.962],[4069.97,0.97],[4070.28,0.975],[4070.74,0.985],[4071.2,0.995],[4071.51,0.99],[4071.98,0.99],[4072.44,0.99],[4072.9,0.99],[4073.36,0.985],[4073.83,0.987],[4074.29,0.99],[4074.75,0.997],[4075.06,0.982],[4075.37,0.982],[4075.83,0.99],[4076.3,0.985],[4076.76,1.002],[4077.22,0.99],[4077.69,1.0],[4078.15,0.995],[4078.61,1.0],[4079.07,0.997],[4079.54,1.0],[4080,0.998]];
const e1Mod=[[4060,1.0],[4065.96,1.0],[4066.42,0.995],[4066.88,0.985],[4067.5,0.97],[4068.12,0.96],[4068.89,0.957],[4069.66,0.96],[4070.28,0.97],[4070.9,0.983],[4071.67,0.993],[4072.44,0.993],[4073.21,0.99],[4073.83,0.988],[4074.44,0.993],[4075.22,0.998],[4076.14,1.001],[4078.61,1.001],[4079.38,1.0],[4080,0.99]];
const e2Obs=[[4501.64,1.005],[4502.35,1.008],[4502.98,1.02],[4503.4,1.025],[4503.74,1.035],[4504.03,1.04],[4504.45,1.03],[4504.87,1.025],[4505.29,1.02],[4505.71,1.01],[4506.13,1.0],[4506.55,1.0],[4506.97,1.002],[4507.39,1.003],[4507.82,1.0],[4508.24,1.003],[4508.66,1.012],[4509.08,1.01],[4509.5,1.002],[4509.92,1.005],[4510.34,1.0],[4510.76,0.995],[4511.18,0.99],[4511.6,0.993],[4512.02,0.986],[4512.44,0.993],[4512.86,0.99],[4513.28,0.998],[4513.7,1.005],[4514.12,1.0],[4514.54,0.995],[4514.96,0.985],[4515.38,0.98],[4515.8,0.97],[4516.22,0.977],[4516.64,0.985],[4517.06,0.99],[4517.48,0.997],[4517.9,1.0],[4518.32,1.003],[4518.74,1.01],[4519.16,1.005],[4519.58,0.997],[4520.0,1.002],[4520.42,1.0],[4520.84,1.004],[4521.26,0.998],[4521.68,1.004],[4522.1,1.004],[4522.52,1.007],[4522.94,1.008],[4523.36,1.01],[4523.78,1.003],[4524.2,1.01],[4524.62,1.017],[4524.92,1.005],[4525.25,0.998],[4525.67,1.003],[4526.09,1.0],[4526.51,1.0],[4526.93,0.998],[4527.35,0.996],[4527.77,0.997],[4528.4,0.998],[4528.9,0.998]];
const e2Mod=[[4501.64,1.005],[4502.56,1.01],[4503.4,1.017],[4504.24,1.021],[4505.08,1.017],[4505.92,1.008],[4506.76,1.003],[4507.82,1.003],[4508.66,1.007],[4509.5,1.011],[4510.13,1.01],[4510.76,1.004],[4511.39,0.995],[4512.02,0.99],[4512.65,0.993],[4513.49,1.001],[4514.33,1.003],[4514.96,0.998],[4515.59,0.99],[4516.43,0.984],[4517.27,0.99],[4518.11,0.999],[4518.95,1.004],[4519.79,1.005],[4520.63,1.004],[4523.57,1.004],[4525.67,1.004],[4527.35,1.0],[4528.9,0.999]];

// ---------- RENDERING ----------
const NS='http://www.w3.org/2000/svg';
const svg=document.getElementById('fig');
function mk(tag,parent){const e=document.createElementNS(NS,tag);parent.appendChild(e);return e;}
function fmt(v){return String(+v.toFixed(3));}

const panels=[
 {n:'uv-1150',box:[49,6,284,153],xr:[1150,1200],yr:[0,1.4],xl:[1160,1180,1200],xm:5,yl:[0,0.5,1],ym:0.1,obs:p1Obs,mod:p1Mod,big:false,ow:1.2},
 {n:'uv-1300',box:[333,6,568,153],xr:[1290,1350],yr:[0,1.4],xl:[1300,1320,1340],xm:5,yl:[0,0.5,1],ym:0.1,obs:p2Obs,mod:p2Mod,big:false,ow:1.2},
 {n:'uv-1350',box:[49,193,568,339],xr:[1350,1519],yr:[0,1.4],xl:[1350,1400,1450,1500],xm:10,yl:[0,0.5,1],ym:0.1,obs:p3Obs,mod:p3Mod,big:false,ow:1.2},
 {n:'uv-1600',box:[49,379,568,525],xr:[1564,1704],yr:[0,1.4],xl:[1600,1650,1700],xm:10,yl:[0,0.5,1],ym:0.1,obs:p4Obs,mod:p4Mod,big:false,ow:1.2},
 {n:'opt-3200',box:[673,6,1192,107],xr:[3200,3630],yr:[0.762,1.105],xl:[3200,3300,3400,3500,3600],xm:20,yl:[0.8,0.9,1,1.1],ym:0.02,obs:r1Obs,mod:r1Mod,big:false,ow:1.6},
 {n:'opt-3900',box:[673,146,1192,246],xr:[3900,4409],yr:[0.5625,1.106],xl:[3900,4000,4100,4200,4300,4400],xm:20,yl:[0.6,0.7,0.8,0.9,1,1.1],ym:0.05,obs:r2Obs,mod:r2Mod,big:false,ow:1.5},
 {n:'opt-4400',box:[673,286,1192,385],xr:[4409,5099],yr:[0.564,1.15],xl:[4600,4800,5000],xm:50,yl:[0.6,0.8,1],ym:0.1,obs:r3Obs,mod:r3Mod,big:false,ow:1.5},
 {n:'opt-5100',box:[673,424,1192,524],xr:[5100,5559],yr:[0.7276,1.055],xl:[5100,5200,5300,5400,5500],xm:20,yl:[0.8,0.9,1],ym:0.05,obs:r4Obs,mod:r4Mod,big:false,ow:1.6},
 {n:'civ-ciii-niii',box:[233,645,593,798],xr:[1165.98,1187.05],yr:[0,1.308],xl:[1170,1175,1180,1185],xm:1,yl:[0,0.5,1],ym:0.1,obs:b1Obs,mod:b1Mod,big:true,lab:[['CIV',263,783],['CIII',435,783],['NIII',538,783]]},
 {n:'oiv-1340',box:[667,645,810,798],xr:[1332.2,1346.5],yr:[0.4,1.173],xl:[1340],xm:2,yl:[0.4,0.6,0.8,1],ym:0.1,obs:b2Obs,mod:b2Mod,big:true,lab:[['OIV',752,777]]},
 {n:'niii-1750',box:[884,645,1027,798],xr:[1744.69,1755.3],yr:[0.367,1.181],xl:[1750],xm:2,yl:[0.4,0.6,0.8,1],ym:0.1,obs:b3Obs,mod:b3Mod,big:true,lab:[['NIII',941,782]]},
 {n:'oiii-3260',box:[233,857,448,1012],xr:[3255,3271.1],yr:[0.89,1.033],xl:[3255,3260,3265,3270],xm:1,yl:[0.9,0.95,1],ym:0.01,obs:c1Obs,mod:c1Mod,big:true,lab:[['OIII',271,997]]},
 {n:'niii-3355',box:[524,857,737,1012],xr:[3350,3360],yr:[0.869,1.0524],xl:[3350,3355,3360],xm:1,yl:[0.9,0.95,1,1.05],ym:0.01,obs:c2Obs,mod:c2Mod,big:true,lab:[['NIII',579,975]]},
 {n:'niv-3480',box:[812,857,1026,1012],xr:[3470,3490],yr:[0.809,1.033],xl:[3470,3480,3490],xm:2,yl:[0.85,0.9,0.95,1],ym:0.01,obs:c3Obs,mod:c3Mod,big:true,lab:[['NIV',845,939]]},
 {n:'oiii-3962',box:[233,1071,448,1226],xr:[3955.8,3966.35],yr:[0.88,1.021],xl:[3960,3965],xm:1,yl:[0.9,0.95,1],ym:0.01,obs:d1Obs,mod:d1Mod,big:true,lab:[['OIII',290,1190]]},
 {n:'niii-4097',box:[524,1071,737,1226],xr:[4093.24,4100.96],yr:[0.627,1.065],xl:[4095,4100],xm:1,yl:[0.7,0.8,0.9,1],ym:0.02,obs:d2Obs,mod:d2Mod,big:true,lab:[['NIII',583,1195]]},
 {n:'oiii-5592',box:[812,1071,1026,1226],xr:[5588.26,5597.26],yr:[0.848,1.071],xl:[5590,5595],xm:1,yl:[0.85,0.9,0.95,1,1.05],ym:0.01,obs:d3Obs,mod:d3Mod,big:true,lab:[['OIII',847,1208]]},
 {n:'ciii-4070',box:[233,1285,593,1438],xr:[4060,4080],yr:[0.9,1.039],xl:[4060,4065,4070,4075,4080],xm:1,yl:[0.9,0.95,1],ym:0.01,obs:e1Obs,mod:e1Mod,big:true,lab:[['CIII',283,1390]]},
 {n:'niii-4515',box:[667,1285,1028,1438],xr:[4501.64,4528.9],yr:[0.91,1.04],xl:[4505,4510,4515,4520],xm:1,yl:[0.95,1],ym:0.01,obs:e2Obs,mod:e2Mod,big:true,lab:[['NIII',732,1387]]}
];

function tickText(g,str,x,y,anchor,big){
  const t=mk('text',g);
  
  
  t.setAttribute('x',x);t.setAttribute('y',y);
  t.setAttribute('text-anchor',anchor);
  t.setAttribute('font-family','Liberation Sans, sans-serif');
  t.setAttribute('font-size',big?19:13.5);
  let w=0;for(const c of str){w+=(c==='.')?(big?4.3:3.4):(big?8.8:7.3);}
  t.setAttribute('textLength',w.toFixed(1));
  t.setAttribute('lengthAdjust','spacingAndGlyphs');
  t.textContent=str;
}

panels.forEach((p,i)=>{
  const [x0,y0,x1,y1]=p.box;
  const sx=v=>x0+(v-p.xr[0])/(p.xr[1]-p.xr[0])*(x1-x0);
  const sy=v=>y1-(v-p.yr[0])/(p.yr[1]-p.yr[0])*(y1-y0);
  const g=mk('g',svg);
  
  
  const cp=mk('clipPath',g);cp.setAttribute('id','cp'+i);
  const cr=mk('rect',cp);cr.setAttribute('x',x0);cr.setAttribute('y',y0);cr.setAttribute('width',x1-x0);cr.setAttribute('height',y1-y0);
  const series=[[p.obs,'#000',p.big?1.6:p.ow,'observed-spectrum'],[p.mod,'#f00',p.big?1.9:1.1,'model-spectrum']];
  series.forEach(s=>{
    const path=mk('path',g);
    
    
    path.setAttribute('d',s[0].map((d,k)=>(k?'L':'M')+sx(d[0]).toFixed(1)+' '+sy(d[1]).toFixed(1)).join(''));
    path.setAttribute('fill','none');path.setAttribute('stroke',s[1]);path.setAttribute('stroke-width',s[2]);
    path.setAttribute('stroke-linejoin','round');
    path.setAttribute('clip-path','url(#cp'+i+')');
  });
  const tk=mk('path',g);
  
  
  const L=p.big?9:7,Lm=p.big?5:4;
  let d='';
  const isMajX=v=>p.xl.some(m=>Math.abs(m-v)<1e-6)||Math.abs(v/(p.xm*5)-Math.round(v/(p.xm*5)))<1e-6;
  const n0=Math.ceil(p.xr[0]/p.xm-1e-9),n1=Math.floor(p.xr[1]/p.xm+1e-9);
  for(let n=n0;n<=n1;n++){const v=n*p.xm;const X=sx(v).toFixed(1);const l=isMajX(v)?L:Lm;d+=`M${X} ${y1}v${-l}M${X} ${y0}v${l}`;}
  const m0=Math.ceil(p.yr[0]/p.ym-1e-9),m1=Math.floor(p.yr[1]/p.ym+1e-9);
  for(let n=m0;n<=m1;n++){const v=n*p.ym;const Y=sy(v).toFixed(1);const maj=p.yl.some(m=>Math.abs(m-v)<1e-6);const l=maj?L:Lm;d+=`M${x0} ${Y}h${l}M${x1} ${Y}h${-l}`;}
  tk.setAttribute('d',d);tk.setAttribute('stroke','#000');tk.setAttribute('stroke-width',p.big?1.3:1);
  const fr=mk('rect',g);
  
  
  fr.setAttribute('x',x0);fr.setAttribute('y',y0);fr.setAttribute('width',x1-x0);fr.setAttribute('height',y1-y0);
  fr.setAttribute('fill','none');fr.setAttribute('stroke','#000');fr.setAttribute('stroke-width',p.big?1.6:1.2);
  p.xl.forEach(v=>tickText(g,fmt(v),sx(v),y1+(p.big?22:17),'middle',p.big));
  p.yl.forEach(v=>tickText(g,fmt(v),x0-(p.big?8:7),sy(v)+(p.big?7:5),'end',p.big));
  (p.lab||[]).forEach(l=>{
    const t=mk('text',g);
    
    
    t.setAttribute('x',l[1]);t.setAttribute('y',l[2]+5);
    t.setAttribute('text-anchor','middle');
    t.setAttribute('font-family','Liberation Serif, serif');
    t.setAttribute('font-weight','bold');
    t.setAttribute('font-size',15);
    t.textContent=l[0];
  });
});
</script>
</body></html>
